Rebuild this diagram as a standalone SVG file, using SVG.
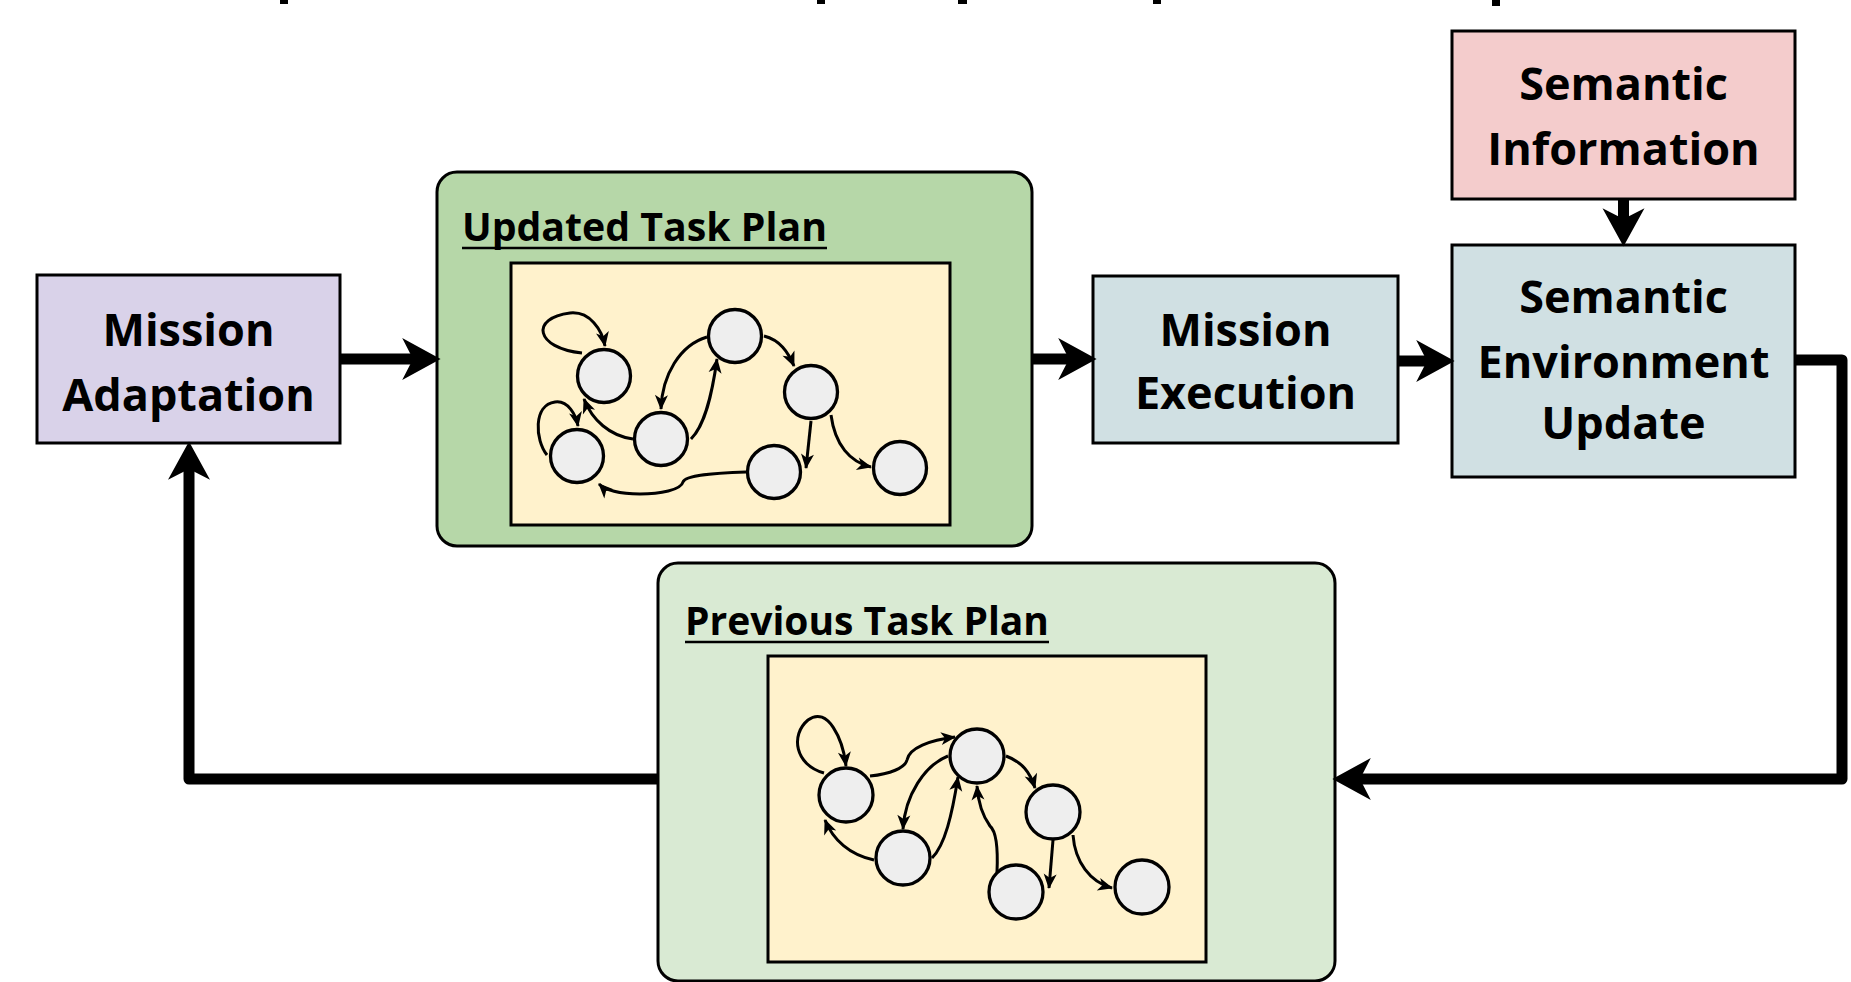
<svg xmlns="http://www.w3.org/2000/svg" width="1851" height="982" viewBox="0 0 1851 982">
<style>
.box{stroke:#000;stroke-width:3}
.lbl{font-family:"Open Sans","Liberation Sans",sans-serif;font-weight:bold;font-size:45px;fill:#000;text-anchor:middle}
.ttl{font-family:"Open Sans","Liberation Sans",sans-serif;font-weight:bold;font-size:40px;fill:#000}
.ul{stroke:#000;stroke-width:2.5}
.nd{fill:#eeeeee;stroke:#000;stroke-width:3.3}
.ed{fill:none;stroke:#000;stroke-width:3;marker-end:url(#sa)}
.conn{fill:none;stroke:#000;stroke-width:11;stroke-linejoin:round;marker-end:url(#ah)}
</style>
<defs>
<marker id="ah" markerUnits="userSpaceOnUse" markerWidth="60" markerHeight="60" viewBox="-15 -25 50 50" refX="0" refY="0" orient="auto" overflow="visible">
<path d="M 23 0 L -9 -17.5 L 0 0 L -9 17.5 Z" fill="#000"/>
</marker>
<marker id="sa" markerUnits="userSpaceOnUse" markerWidth="24" markerHeight="24" viewBox="-18 -12 24 24" refX="0" refY="0" orient="auto" overflow="visible">
<path d="M 1 0 L -14 -6.5 L -10 0 L -14 6.5 Z" fill="#000"/>
</marker>
</defs>
<rect width="1851" height="982" fill="#fff"/>

<g id="title-fragments" fill="#000">
<rect x="280" y="0" width="8" height="4"/>
<rect x="817" y="0" width="8" height="4"/>
<rect x="958" y="0" width="9" height="4"/>
<rect x="1153" y="0" width="8" height="4"/>
<rect x="1492" y="0" width="8" height="6"/>
</g>

<g id="mission-adaptation">
<rect class="box" x="37" y="275" width="303" height="168" fill="#d9d2e9"/>
<text class="lbl" x="188.5" y="346">Mission</text>
<text class="lbl" x="188.5" y="411">Adaptation</text>
</g>

<g id="updated-task-plan">
<rect class="box" x="437" y="172" width="595" height="374" rx="20" fill="#b6d7a8"/>
<text class="ttl" x="462" y="241" textLength="365" lengthAdjust="spacingAndGlyphs">Updated Task Plan</text>
<line class="ul" x1="462" y1="248" x2="827" y2="248"/>
<rect class="box" x="511" y="263" width="439" height="262" fill="#fff2cc"/>
<g id="updated-graph">
<circle class="nd" cx="604" cy="376" r="26.5"/>
<circle class="nd" cx="577" cy="456" r="26.5"/>
<circle class="nd" cx="661" cy="439" r="26.5"/>
<circle class="nd" cx="735" cy="336" r="26.5"/>
<circle class="nd" cx="811" cy="392" r="26.5"/>
<circle class="nd" cx="774" cy="472" r="26.5"/>
<circle class="nd" cx="900" cy="468" r="26.5"/>
<path class="ed" d="M 582 353 C 535 348, 530 318, 570 313 C 590 311, 602 330, 605 346"/>
<path class="ed" d="M 547 455 C 535 440, 533 405, 555 402 C 568 400, 576 415, 578 426"/>
<path class="ed" d="M 633 439 C 610 436, 592 420, 584 399"/>
<path class="ed" d="M 707 337 C 680 345, 662 375, 661 409"/>
<path class="ed" d="M 691 439 C 705 425, 712 395, 717 359"/>
<path class="ed" d="M 764 336 C 780 340, 788 352, 794 366"/>
<path class="ed" d="M 811 421 L 806 468"/>
<path class="ed" d="M 831 415 C 835 445, 850 462, 871 467"/>
<path class="ed" d="M 746 472 C 715 473, 685 475, 683 482 C 681 490, 660 494, 640 494 C 620 494, 605 490, 599 484"/>
</g>
</g>

<g id="mission-execution">
<rect class="box" x="1093" y="276" width="305" height="167" fill="#d0e0e3"/>
<text class="lbl" x="1245.5" y="346">Mission</text>
<text class="lbl" x="1245.5" y="409">Execution</text>
</g>

<g id="semantic-information">
<rect class="box" x="1452" y="31" width="343" height="168" fill="#f4cccc"/>
<text class="lbl" x="1623.5" y="100">Semantic</text>
<text class="lbl" x="1623.5" y="165">Information</text>
</g>

<g id="semantic-environment-update">
<rect class="box" x="1452" y="245" width="343" height="232" fill="#d0e0e3"/>
<text class="lbl" x="1623.5" y="313">Semantic</text>
<text class="lbl" x="1623.5" y="378">Environment</text>
<text class="lbl" x="1623.5" y="439">Update</text>
</g>

<g id="previous-task-plan">
<rect class="box" x="658" y="563" width="677" height="418" rx="20" fill="#d9ead3"/>
<text class="ttl" x="685" y="635" textLength="364" lengthAdjust="spacingAndGlyphs">Previous Task Plan</text>
<line class="ul" x1="685" y1="642" x2="1049" y2="642"/>
<rect class="box" x="768" y="656" width="438" height="306" fill="#fff2cc"/>
<g id="previous-graph">
<circle class="nd" cx="846" cy="795" r="27"/>
<circle class="nd" cx="977" cy="756" r="27"/>
<circle class="nd" cx="903" cy="858" r="27"/>
<circle class="nd" cx="1053" cy="812" r="27"/>
<circle class="nd" cx="1016" cy="892" r="27"/>
<circle class="nd" cx="1142" cy="887" r="27"/>
<path class="ed" d="M 824 773 C 795 765, 790 735, 808 720 C 828 705, 843 740, 846 766"/>
<path class="ed" d="M 870 776 C 890 774, 905 768, 907 760 C 909 748, 930 740, 955 737"/>
<path class="ed" d="M 948 756 C 925 765, 905 795, 903 829"/>
<path class="ed" d="M 932 858 C 945 845, 952 815, 958 777"/>
<path class="ed" d="M 874 860 C 850 855, 833 840, 825 820"/>
<path class="ed" d="M 997 872 C 998 850, 997 832, 990 826 C 982 815, 978 800, 977 786"/>
<path class="ed" d="M 1006 756 C 1022 762, 1030 772, 1035 788"/>
<path class="ed" d="M 1053 840 L 1049 888"/>
<path class="ed" d="M 1073 835 C 1075 862, 1090 882, 1112 888"/>
</g>
</g>

<g id="connectors">
<path class="conn" d="M 340 359 L 413 359"/>
<path class="conn" d="M 1032 359 L 1069 359"/>
<path class="conn" d="M 1398 361 L 1427 361"/>
<path class="conn" d="M 1623.5 199 L 1623.5 219"/>
<path class="conn" d="M 1795 360 L 1842 360 L 1842 779 L 1360 779"/>
<path class="conn" d="M 658 779 L 189 779 L 189 469"/>
</g>
</svg>
